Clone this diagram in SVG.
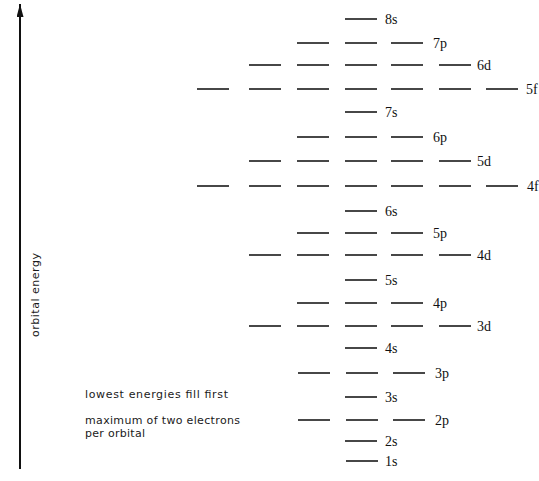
<svg xmlns="http://www.w3.org/2000/svg" xmlns:xlink="http://www.w3.org/1999/xlink" width="539" height="481" viewBox="0 0 539 481">
<style>
.lv{stroke:#1a1a1a;stroke-width:1.6;fill:none}
.lb{font-family:"Liberation Serif","DejaVu Serif",serif;font-size:14px;fill:#111}
.tx{font-family:"DejaVu Sans","Liberation Sans",sans-serif;font-size:11px;fill:#1a1a1a}
</style>
<defs>
<marker id="ah" viewBox="0 0 13 7" refX="13" refY="3.5" markerWidth="13" markerHeight="7" markerUnits="userSpaceOnUse" orient="auto">
<path d="M0,0 L13,3.5 L0,7 Z" fill="#111"/>
</marker>
<line id="L" class="lv" x1="0" y1="0" x2="32" y2="0"/>
</defs>
<rect width="539" height="481" fill="#fff"/>
<g id="connectors">
<line x1="20" y1="469" x2="20" y2="4" stroke="#111" stroke-width="2" marker-end="url(#ah)"/>
</g>
<g id="axis-label"><text class="tx" transform="translate(39,295) rotate(-90)" text-anchor="middle" textLength="84" lengthAdjust="spacing">orbital energy</text></g>
<g id="notes">
<text class="tx" x="85" y="398" textLength="143" lengthAdjust="spacing">lowest energies fill first</text>
<text class="tx" x="85" y="423.5" textLength="155" lengthAdjust="spacing">maximum of two electrons</text>
<text class="tx" x="85" y="436.5" textLength="60" lengthAdjust="spacing">per orbital</text>
</g>
<g id="lvl-8s"><use xlink:href="#L" x="345" y="19"/><text class="lb" x="385" y="24">8s</text></g>
<g id="lvl-7p"><use xlink:href="#L" x="297" y="43"/><use xlink:href="#L" x="345" y="43"/><use xlink:href="#L" x="391" y="43"/><text class="lb" x="433" y="48">7p</text></g>
<g id="lvl-6d"><use xlink:href="#L" x="249" y="65"/><use xlink:href="#L" x="297" y="65"/><use xlink:href="#L" x="345" y="65"/><use xlink:href="#L" x="391" y="65"/><use xlink:href="#L" x="439" y="65"/><text class="lb" x="477" y="70">6d</text></g>
<g id="lvl-5f"><use xlink:href="#L" x="197" y="89"/><use xlink:href="#L" x="249" y="89"/><use xlink:href="#L" x="297" y="89"/><use xlink:href="#L" x="345" y="89"/><use xlink:href="#L" x="391" y="89"/><use xlink:href="#L" x="439" y="89"/><use xlink:href="#L" x="486" y="89"/><text class="lb" x="526" y="94">5f</text></g>
<g id="lvl-7s"><use xlink:href="#L" x="345" y="112"/><text class="lb" x="385" y="117">7s</text></g>
<g id="lvl-6p"><use xlink:href="#L" x="297" y="137"/><use xlink:href="#L" x="345" y="137"/><use xlink:href="#L" x="391" y="137"/><text class="lb" x="433" y="142">6p</text></g>
<g id="lvl-5d"><use xlink:href="#L" x="249" y="161"/><use xlink:href="#L" x="297" y="161"/><use xlink:href="#L" x="345" y="161"/><use xlink:href="#L" x="391" y="161"/><use xlink:href="#L" x="439" y="161"/><text class="lb" x="477" y="166">5d</text></g>
<g id="lvl-4f"><use xlink:href="#L" x="197" y="186"/><use xlink:href="#L" x="249" y="186"/><use xlink:href="#L" x="297" y="186"/><use xlink:href="#L" x="345" y="186"/><use xlink:href="#L" x="391" y="186"/><use xlink:href="#L" x="439" y="186"/><use xlink:href="#L" x="486" y="186"/><text class="lb" x="527" y="191">4f</text></g>
<g id="lvl-6s"><use xlink:href="#L" x="345" y="211"/><text class="lb" x="385" y="216">6s</text></g>
<g id="lvl-5p"><use xlink:href="#L" x="297" y="233"/><use xlink:href="#L" x="345" y="233"/><use xlink:href="#L" x="391" y="233"/><text class="lb" x="433" y="238">5p</text></g>
<g id="lvl-4d"><use xlink:href="#L" x="249" y="255"/><use xlink:href="#L" x="297" y="255"/><use xlink:href="#L" x="345" y="255"/><use xlink:href="#L" x="391" y="255"/><use xlink:href="#L" x="439" y="255"/><text class="lb" x="477" y="260">4d</text></g>
<g id="lvl-5s"><use xlink:href="#L" x="345" y="280"/><text class="lb" x="385" y="285">5s</text></g>
<g id="lvl-4p"><use xlink:href="#L" x="297" y="303"/><use xlink:href="#L" x="345" y="303"/><use xlink:href="#L" x="391" y="303"/><text class="lb" x="433" y="308">4p</text></g>
<g id="lvl-3d"><use xlink:href="#L" x="249" y="326"/><use xlink:href="#L" x="297" y="326"/><use xlink:href="#L" x="345" y="326"/><use xlink:href="#L" x="391" y="326"/><use xlink:href="#L" x="439" y="326"/><text class="lb" x="477" y="331">3d</text></g>
<g id="lvl-4s"><use xlink:href="#L" x="345" y="348"/><text class="lb" x="385" y="353">4s</text></g>
<g id="lvl-3p"><use xlink:href="#L" x="298" y="373"/><use xlink:href="#L" x="346" y="373"/><use xlink:href="#L" x="393" y="373"/><text class="lb" x="435" y="378">3p</text></g>
<g id="lvl-3s"><use xlink:href="#L" x="345" y="397"/><text class="lb" x="385" y="402">3s</text></g>
<g id="lvl-2p"><use xlink:href="#L" x="298" y="420"/><use xlink:href="#L" x="346" y="420"/><use xlink:href="#L" x="393" y="420"/><text class="lb" x="435" y="425">2p</text></g>
<g id="lvl-2s"><use xlink:href="#L" x="345" y="441"/><text class="lb" x="385" y="446">2s</text></g>
<g id="lvl-1s"><use xlink:href="#L" x="346" y="461"/><text class="lb" x="385" y="466">1s</text></g>
</svg>
